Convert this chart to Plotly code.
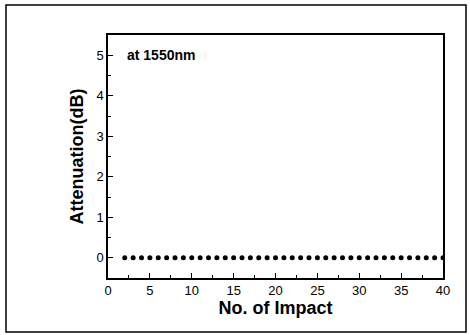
import plotly.graph_objects as go

impacts = list(range(2, 41))
attenuation = [0.0] * len(impacts)

x_ticks = [0, 5, 10, 15, 20, 25, 30, 35, 40]
y_ticks = [0, 1, 2, 3, 4, 5]

fig = go.Figure()
fig.add_trace(go.Scatter(
    x=impacts, y=attenuation, mode="markers",
    marker=dict(color="black", size=5),
    cliponaxis=True, showlegend=False,
))

axis_common = dict(
    showgrid=False, zeroline=False, showline=True, linecolor="black", linewidth=1.5,
    mirror=True, ticks="inside", ticklen=5, tickcolor="black", tickwidth=1,
    tickfont=dict(family="Liberation Sans, Arial", size=13, color="black"),
)

fig.update_xaxes(
    range=[0, 40], tickvals=x_ticks,
    minor=dict(ticks="inside", ticklen=3, dtick=2.5, tickcolor="black"),
    title=dict(text="<b>No. of Impact</b>", font=dict(family="Liberation Sans, Arial", size=18, color="black"), standoff=4),
    **axis_common,
)
fig.update_yaxes(
    range=[-0.5, 5.5], tickvals=y_ticks,
    minor=dict(ticks="inside", ticklen=3, dtick=0.5, tickcolor="black"),
    title=dict(text="<b>Attenuation(dB)</b>", font=dict(family="Liberation Sans, Arial", size=18, color="black"), standoff=8),
    **axis_common,
)

fig.add_annotation(
    x=2.0, y=5.0, xref="x", yref="y", text="<b>at 1550nm</b>", showarrow=False,
    xanchor="left", yanchor="middle",
    font=dict(family="Liberation Sans, Arial", size=14, color="black"),
)

fig.add_shape(
    type="rect", xref="paper", yref="paper",
    x0=-102/335, x1=1 + 23/335, y0=-54/243, y1=1 + 30/243,
    line=dict(color="black", width=1.5),
)

fig.update_layout(
    width=470, height=335,
    margin=dict(l=108, r=27, t=35, b=57),
    paper_bgcolor="white", plot_bgcolor="white",
)

fig.write_html("out.html", config={"displayModeBar": False},
               post_script="document.body.style.margin='0';")
